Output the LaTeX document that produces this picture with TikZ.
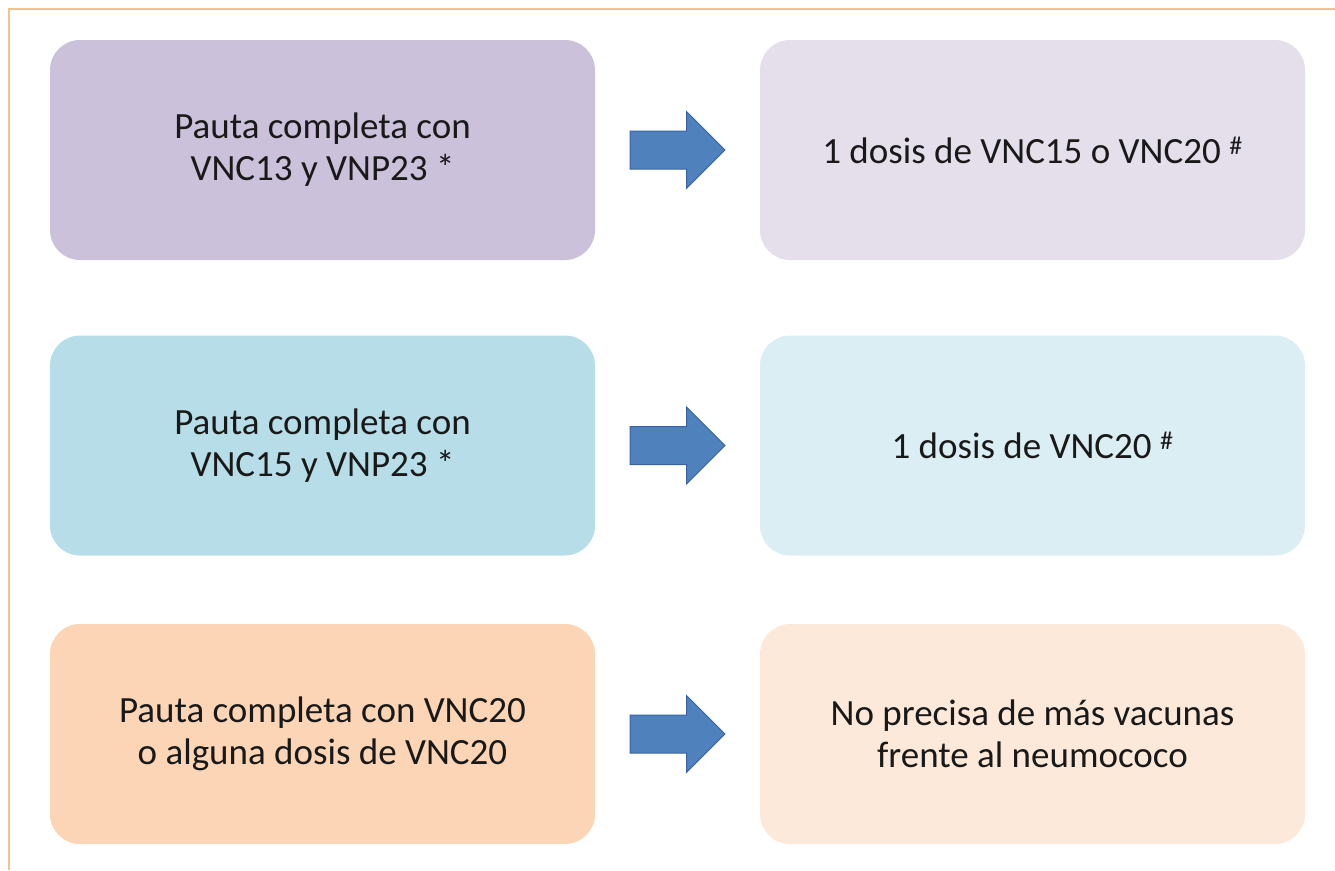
\documentclass[tikz,border=0pt]{standalone}
\usepackage{fontspec}
\setmainfont{Carlito}
\usetikzlibrary{shapes.arrows}

\definecolor{lilaOsc}{HTML}{CCC1DB}
\definecolor{lilaCla}{HTML}{E5DFEC}
\definecolor{azulOsc}{HTML}{B7DEE8}
\definecolor{azulCla}{HTML}{DBEEF3}
\definecolor{naranjaOsc}{HTML}{FBD5B5}
\definecolor{naranjaCla}{HTML}{FDE9D9}
\definecolor{flechaAzul}{HTML}{4F81BD}
\definecolor{flechaBorde}{HTML}{3A64A0}
\definecolor{marco}{HTML}{F0C48C}

\tikzset{
  caja/.style={rounded corners=30pt, minimum width=545pt, minimum height=220pt,
    inner sep=0pt, align=center, text=black!90, font=\fontsize{37}{42}\selectfont},
  flecha/.style={single arrow, draw=flechaBorde, line width=1pt, fill=flechaAzul,
    minimum height=95pt, inner xsep=0pt, inner ysep=18.5pt, outer sep=0pt,
    single arrow head extend=19.5pt, single arrow tip angle=90, anchor=tail}
}

\begin{document}
\begin{tikzpicture}[x=1pt,y=-1pt]
  \useasboundingbox (0,0) rectangle (1335,870);
  \draw[marco, line width=2pt] (9,870) -- (9,9) -- (1335,9);

  % fila 1
  \node[caja, fill=lilaOsc] (pauta1) at (322.5,150) {Pauta completa con\\VNC13 y VNP23 *};
  \node[caja, fill=lilaCla] (dosis1) at (1032.5,150) {1 dosis de VNC15 o VNC20 \textsuperscript{\#}};
  \node[flecha] (flecha1) at (630,150) {};

  % fila 2
  \node[caja, fill=azulOsc] (pauta2) at (322.5,445.5) {Pauta completa con\\VNC15 y VNP23 *};
  \node[caja, fill=azulCla] (dosis2) at (1032.5,445.5) {1 dosis de VNC20 \textsuperscript{\#}};
  \node[flecha] (flecha2) at (630,445.5) {};

  % fila 3
  \node[caja, fill=naranjaOsc] (pauta3) at (322.5,734) {Pauta completa con VNC20\\o alguna dosis de VNC20};
  \node[caja, fill=naranjaCla] (dosis3) at (1032.5,734) {No precisa de más vacunas\\frente al neumococo};
  \node[flecha] (flecha3) at (630,734) {};
\end{tikzpicture}
\end{document}
